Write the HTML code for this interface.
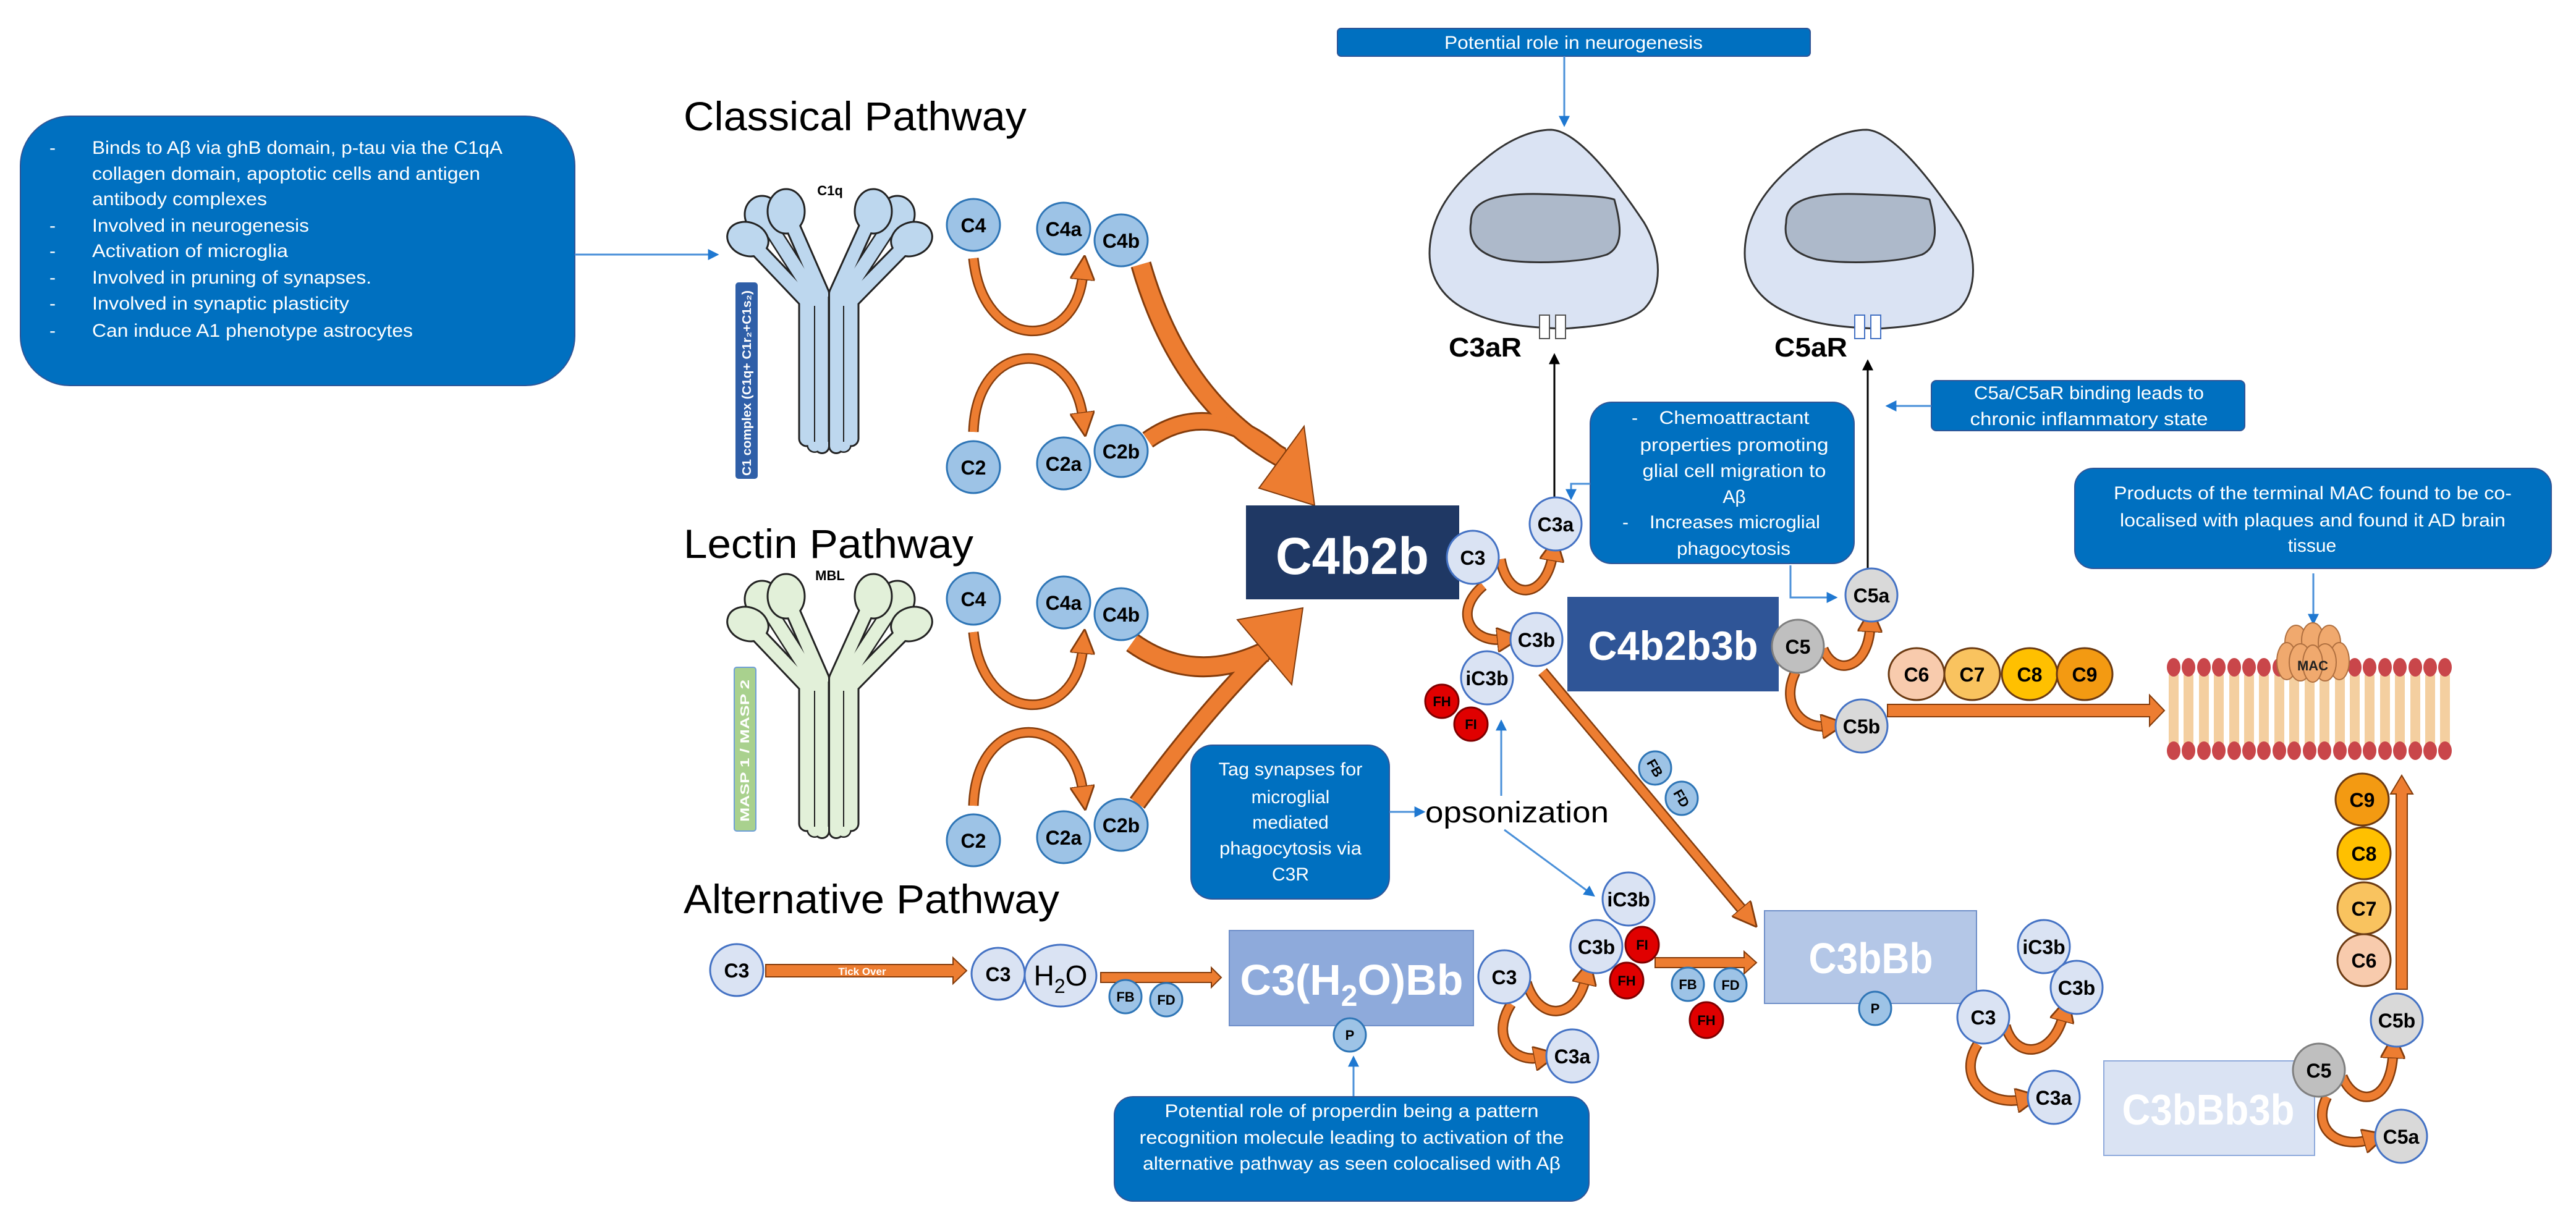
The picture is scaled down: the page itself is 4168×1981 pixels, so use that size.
<!DOCTYPE html>
<html><head><meta charset="utf-8"><style>
html,body{margin:0;padding:0;background:#fff;}
svg{display:block;}
text{font-family:"Liberation Sans",sans-serif;}
.bx{fill:#0070c0;stroke:#2f5597;stroke-width:2;}
.bt{fill:#fff;font-size:30px;}
.cl{font-weight:bold;font-size:32px;fill:#000;text-anchor:middle;}
.cs{font-weight:bold;font-size:22px;fill:#000;text-anchor:middle;}
.lb{fill:#dae3f3;stroke:#4472c4;stroke-width:3;}
.mb{fill:#9dc3e6;stroke:#2e75b6;stroke-width:3;}
.dg{fill:#bfbfbf;stroke:#7f7f7f;stroke-width:3;}
.lg{fill:#d9d9d9;stroke:#4472c4;stroke-width:3;}
.rd{fill:#e00000;stroke:#7f0000;stroke-width:3;}
.oo{fill:none;stroke:#843c0c;stroke-width:17;}
.oi{fill:none;stroke:#ed7d31;stroke-width:12;}
.bl{fill:none;stroke:#4a90d9;stroke-width:3;}
</style></head><body>
<svg width="4168" height="1981" viewBox="0 0 4168 1981" xmlns="http://www.w3.org/2000/svg">
<defs>
<marker id="oa" markerUnits="userSpaceOnUse" markerWidth="40" markerHeight="40" viewBox="0 0 10 10" refX="2" refY="5" orient="auto"><path d="M0,0 L10,5 L0,10z" fill="#ed7d31" stroke="#843c0c" stroke-width="0.7"/></marker>
<marker id="ba" markerUnits="userSpaceOnUse" markerWidth="18" markerHeight="18" viewBox="0 0 10 10" refX="8" refY="5" orient="auto"><path d="M0,0 L10,5 L0,10z" fill="#1f78d1"/></marker>
<marker id="ka" markerUnits="userSpaceOnUse" markerWidth="18" markerHeight="18" viewBox="0 0 10 10" refX="8" refY="5" orient="auto"><path d="M0,0 L10,5 L0,10z" fill="#000"/></marker>
<g id="abody">
<path d="M1210,387 L1305,487 L1305,710" fill="none" stroke="#222" stroke-width="27" stroke-linecap="round" stroke-linejoin="round"/>
<path d="M1475,387 L1377,487 L1377,710" fill="none" stroke="#222" stroke-width="27" stroke-linecap="round" stroke-linejoin="round"/>
<path d="M1233,347 L1318,480 L1318,720" fill="none" stroke="#222" stroke-width="26" stroke-linecap="round" stroke-linejoin="round"/>
<path d="M1452,347 L1365,480 L1365,720" fill="none" stroke="#222" stroke-width="26" stroke-linecap="round" stroke-linejoin="round"/>
<path d="M1272,342 L1330,475 L1330,722" fill="none" stroke="#222" stroke-width="26" stroke-linecap="round" stroke-linejoin="round"/>
<path d="M1413,342 L1353,475 L1353,722" fill="none" stroke="#222" stroke-width="26" stroke-linecap="round" stroke-linejoin="round"/>
<ellipse cx="1233" cy="347" rx="28" ry="30" stroke="#222" stroke-width="3"/><ellipse cx="1452" cy="347" rx="28" ry="30" stroke="#222" stroke-width="3"/>
<path d="M1233,347 L1318,480 L1318,720" fill="none" stroke="currentColor" stroke-width="21" stroke-linecap="round" stroke-linejoin="round"/>
<path d="M1452,347 L1365,480 L1365,720" fill="none" stroke="currentColor" stroke-width="21" stroke-linecap="round" stroke-linejoin="round"/>
<ellipse cx="1210" cy="387" rx="34" ry="27" transform="rotate(20 1210 387)" stroke="#222" stroke-width="3"/><ellipse cx="1475" cy="387" rx="34" ry="27" transform="rotate(-20 1475 387)" stroke="#222" stroke-width="3"/>
<ellipse cx="1272" cy="342" rx="30" ry="36" stroke="#222" stroke-width="3"/><ellipse cx="1413" cy="342" rx="30" ry="36" stroke="#222" stroke-width="3"/>
<path d="M1210,387 L1305,487 L1305,710" fill="none" stroke="currentColor" stroke-width="21" stroke-linecap="round" stroke-linejoin="round"/>
<path d="M1475,387 L1377,487 L1377,710" fill="none" stroke="currentColor" stroke-width="21" stroke-linecap="round" stroke-linejoin="round"/>
<path d="M1272,342 L1330,475 L1330,722" fill="none" stroke="currentColor" stroke-width="20" stroke-linecap="round" stroke-linejoin="round"/>
<path d="M1413,342 L1353,475 L1353,722" fill="none" stroke="currentColor" stroke-width="20" stroke-linecap="round" stroke-linejoin="round"/>
<line x1="1341" y1="480" x2="1341" y2="715" stroke="#222" stroke-width="3"/>
<line x1="1318" y1="495" x2="1318" y2="715" stroke="#222" stroke-width="2"/>
<line x1="1365" y1="495" x2="1365" y2="715" stroke="#222" stroke-width="2"/>
</g>
</defs>

<!-- left info box -->
<rect x="33" y="188" width="897" height="436" rx="80" class="bx"/>
<g class="bt">
<text x="80" y="249">-</text><text x="149" y="249" textLength="664" lengthAdjust="spacingAndGlyphs">Binds to Aβ via ghB domain, p-tau via the C1qA</text>
<text x="149" y="291" textLength="628" lengthAdjust="spacingAndGlyphs">collagen domain, apoptotic cells and antigen</text>
<text x="149" y="332" textLength="283" lengthAdjust="spacingAndGlyphs">antibody complexes</text>
<text x="80" y="375">-</text><text x="149" y="375" textLength="351" lengthAdjust="spacingAndGlyphs">Involved in neurogenesis</text>
<text x="80" y="416">-</text><text x="149" y="416" textLength="317" lengthAdjust="spacingAndGlyphs">Activation of microglia</text>
<text x="80" y="459">-</text><text x="149" y="459" textLength="452" lengthAdjust="spacingAndGlyphs">Involved in pruning of synapses.</text>
<text x="80" y="501">-</text><text x="149" y="501" textLength="416" lengthAdjust="spacingAndGlyphs">Involved in synaptic plasticity</text>
<text x="80" y="545">-</text><text x="149" y="545" textLength="519" lengthAdjust="spacingAndGlyphs">Can induce A1 phenotype astrocytes</text>
</g>
<line x1="930" y1="412" x2="1160" y2="412" class="bl" marker-end="url(#ba)"/>

<!-- titles -->
<text x="1106" y="211" font-size="66" textLength="555" lengthAdjust="spacingAndGlyphs">Classical Pathway</text>
<text x="1106" y="903" font-size="66" textLength="469" lengthAdjust="spacingAndGlyphs">Lectin Pathway</text>
<text x="1106" y="1478" font-size="66" textLength="608" lengthAdjust="spacingAndGlyphs">Alternative Pathway</text>

<!-- C1q structure -->
<use href="#abody" fill="#bdd7ee" style="color:#bdd7ee"/>
<text x="1343" y="316" class="cs" font-size="26">C1q</text>
<rect x="1190" y="457" width="36" height="318" rx="5" fill="#2f5fa8"/>
<text transform="translate(1215,770) rotate(-90)" fill="#fff" font-size="20" font-weight="bold" textLength="300" lengthAdjust="spacingAndGlyphs">C1 complex (C1q+ C1r₂+C1s₂)</text>

<!-- MBL structure -->
<g transform="translate(0,623)">
<use href="#abody" fill="#e2f0d9" style="color:#e2f0d9"/>
<text x="1343" y="316" class="cs" font-size="26">MBL</text>
</g>
<rect x="1188" y="1080" width="35" height="265" rx="4" fill="#a9d18e" stroke="#6f9fd8" stroke-width="2"/>
<text transform="translate(1212,1330) rotate(-90)" fill="#fff" font-size="20" font-weight="bold" textLength="230" lengthAdjust="spacingAndGlyphs">MASP 1 / MASP 2</text>

<!-- small curved orange arrows -->
<g>
<path class="oo" d="M1575,418 C1590,570 1740,570 1752,445"/>
<path class="oi" d="M1575,418 C1590,570 1740,570 1752,445" marker-end="url(#oa)"/>
<path class="oo" d="M1575,699 C1580,545 1735,545 1752,675"/>
<path class="oi" d="M1575,699 C1580,545 1735,545 1752,675" marker-end="url(#oa)"/>
<path class="oo" d="M1575,1023 C1590,1175 1740,1175 1752,1050"/>
<path class="oi" d="M1575,1023 C1590,1175 1740,1175 1752,1050" marker-end="url(#oa)"/>
<path class="oo" d="M1575,1304 C1580,1150 1735,1150 1752,1280"/>
<path class="oi" d="M1575,1304 C1580,1150 1735,1150 1752,1280" marker-end="url(#oa)"/>
</g>

<!-- big orange converging arrows -->
<g fill="none" stroke-linecap="butt">
<path d="M1846,428 Q1910,650 2073,740" stroke="#843c0c" stroke-width="34"/>
<path d="M1857,712 Q1960,640 2073,740" stroke="#843c0c" stroke-width="30"/>
<path d="M1832,1040 Q1930,1110 2046,1055" stroke="#843c0c" stroke-width="34"/>
<path d="M1840,1300 Q1950,1150 2046,1055" stroke="#843c0c" stroke-width="30"/>
<path d="M1846,428 Q1910,650 2073,740" stroke="#ed7d31" stroke-width="28"/>
<path d="M1857,712 Q1960,640 2073,740" stroke="#ed7d31" stroke-width="24"/>
<path d="M1832,1040 Q1930,1110 2046,1055" stroke="#ed7d31" stroke-width="28"/>
<path d="M1840,1300 Q1950,1150 2046,1055" stroke="#ed7d31" stroke-width="24"/>
</g>
<polygon points="2037,790 2110,690 2127,818" fill="#ed7d31" stroke="#843c0c" stroke-width="2"/>
<polygon points="2002,1003 2090,1108 2108,984" fill="#ed7d31" stroke="#843c0c" stroke-width="2"/>

<!-- neurogenesis box + cells -->
<rect x="2164" y="46" width="765" height="45" rx="6" class="bx"/>
<text x="2546" y="79" class="bt" text-anchor="middle" textLength="418" lengthAdjust="spacingAndGlyphs">Potential role in neurogenesis</text>
<line x1="2531" y1="91" x2="2531" y2="202" class="bl" marker-end="url(#ba)"/>

<g id="cell">
<path d="M2510,210 C2555,212 2620,300 2660,360 C2690,410 2690,470 2660,500 C2630,525 2580,528 2530,532 C2470,530 2420,525 2380,505 C2335,485 2313,450 2313,410 C2313,350 2350,300 2400,260 C2440,225 2480,210 2510,210 Z" fill="#dae3f3" stroke="#333" stroke-width="3"/>
<path d="M2380,360 C2380,320 2430,313 2490,314 C2560,316 2600,318 2612,323 C2625,370 2625,400 2600,412 C2560,425 2480,428 2430,420 C2390,410 2375,390 2380,360 Z" fill="#adb9ca" stroke="#333" stroke-width="3"/>
</g>
<rect x="2491" y="510" width="16" height="38" fill="#fff" stroke="#555" stroke-width="2"/>
<rect x="2517" y="510" width="16" height="38" fill="#fff" stroke="#555" stroke-width="2"/>
<text x="2344" y="577" font-size="44" font-weight="bold" textLength="118" lengthAdjust="spacingAndGlyphs">C3aR</text>
<g transform="translate(510,0)">
<path d="M2510,210 C2555,212 2620,300 2660,360 C2690,410 2690,470 2660,500 C2630,525 2580,528 2530,532 C2470,530 2420,525 2380,505 C2335,485 2313,450 2313,410 C2313,350 2350,300 2400,260 C2440,225 2480,210 2510,210 Z" fill="#dae3f3" stroke="#333" stroke-width="3"/>
<path d="M2380,360 C2380,320 2430,313 2490,314 C2560,316 2600,318 2612,323 C2625,370 2625,400 2600,412 C2560,425 2480,428 2430,420 C2390,410 2375,390 2380,360 Z" fill="#adb9ca" stroke="#333" stroke-width="3"/>
<rect x="2491" y="510" width="16" height="38" fill="#fff" stroke="#4472c4" stroke-width="2"/>
<rect x="2517" y="510" width="16" height="38" fill="#fff" stroke="#4472c4" stroke-width="2"/>
</g>
<text x="2871" y="577" font-size="44" font-weight="bold" textLength="118" lengthAdjust="spacingAndGlyphs">C5aR</text>

<!-- black arrows to receptors -->
<line x1="2515" y1="805" x2="2515" y2="575" stroke="#000" stroke-width="3" marker-end="url(#ka)"/>
<line x1="3022" y1="925" x2="3022" y2="585" stroke="#000" stroke-width="3" marker-end="url(#ka)"/>

<!-- chemoattractant box -->
<rect x="2573" y="651" width="427" height="261" rx="35" class="bx"/>
<g class="bt" text-anchor="middle">
<text x="2645" y="686">-</text><text x="2806" y="686" textLength="243" lengthAdjust="spacingAndGlyphs">Chemoattractant</text>
<text x="2806" y="730" textLength="305" lengthAdjust="spacingAndGlyphs">properties promoting</text>
<text x="2806" y="772" textLength="297" lengthAdjust="spacingAndGlyphs">glial cell migration to</text>
<text x="2806" y="814">Aβ</text>
<text x="2630" y="855">-</text><text x="2807" y="855" textLength="276" lengthAdjust="spacingAndGlyphs">Increases microglial</text>
<text x="2805" y="898" textLength="184" lengthAdjust="spacingAndGlyphs">phagocytosis</text>
</g>
<path d="M2573,783 L2542,783 L2542,806" class="bl" marker-end="url(#ba)"/>
<path d="M2897,915 L2897,967 L2970,967" class="bl" marker-end="url(#ba)"/>

<!-- C5a/C5aR box -->
<rect x="3125" y="616" width="507" height="81" rx="8" class="bx"/>
<g class="bt" text-anchor="middle">
<text x="3380" y="646" textLength="372" lengthAdjust="spacingAndGlyphs">C5a/C5aR binding leads to</text>
<text x="3380" y="688" textLength="385" lengthAdjust="spacingAndGlyphs">chronic inflammatory state</text>
</g>
<line x1="3125" y1="657" x2="3054" y2="657" class="bl" marker-end="url(#ba)"/>

<!-- Products box -->
<rect x="3357" y="758" width="771" height="162" rx="30" class="bx"/>
<g class="bt" text-anchor="middle">
<text x="3742" y="808" textLength="644" lengthAdjust="spacingAndGlyphs">Products of the terminal MAC found to be co-</text>
<text x="3742" y="852" textLength="624" lengthAdjust="spacingAndGlyphs">localised with plaques and found it AD brain</text>
<text x="3741" y="893">tissue</text>
</g>
<line x1="3743" y1="928" x2="3743" y2="1008" class="bl" marker-end="url(#ba)"/>

<!-- membrane -->
<g>
<g fill="#f4cfa0">
<rect x="3509" y="1092" width="16" height="112"/><rect x="3533" y="1092" width="16" height="112"/><rect x="3558" y="1092" width="16" height="112"/><rect x="3582" y="1092" width="16" height="112"/><rect x="3607" y="1092" width="16" height="112"/><rect x="3631" y="1092" width="16" height="112"/><rect x="3655" y="1092" width="16" height="112"/><rect x="3680" y="1092" width="16" height="112"/><rect x="3704" y="1092" width="16" height="112"/><rect x="3729" y="1092" width="16" height="112"/><rect x="3753" y="1092" width="16" height="112"/><rect x="3778" y="1092" width="16" height="112"/><rect x="3802" y="1092" width="16" height="112"/><rect x="3826" y="1092" width="16" height="112"/><rect x="3851" y="1092" width="16" height="112"/><rect x="3875" y="1092" width="16" height="112"/><rect x="3900" y="1092" width="16" height="112"/><rect x="3924" y="1092" width="16" height="112"/><rect x="3948" y="1092" width="16" height="112"/>
</g>
<g fill="#c9464a">
<ellipse cx="3517" cy="1080" rx="11" ry="15"/><ellipse cx="3541" cy="1080" rx="11" ry="15"/><ellipse cx="3566" cy="1080" rx="11" ry="15"/><ellipse cx="3590" cy="1080" rx="11" ry="15"/><ellipse cx="3615" cy="1080" rx="11" ry="15"/><ellipse cx="3639" cy="1080" rx="11" ry="15"/><ellipse cx="3663" cy="1080" rx="11" ry="15"/><ellipse cx="3688" cy="1080" rx="11" ry="15"/><ellipse cx="3810" cy="1080" rx="11" ry="15"/><ellipse cx="3834" cy="1080" rx="11" ry="15"/><ellipse cx="3859" cy="1080" rx="11" ry="15"/><ellipse cx="3883" cy="1080" rx="11" ry="15"/><ellipse cx="3908" cy="1080" rx="11" ry="15"/><ellipse cx="3932" cy="1080" rx="11" ry="15"/><ellipse cx="3956" cy="1080" rx="11" ry="15"/>
<ellipse cx="3517" cy="1215" rx="11" ry="15"/><ellipse cx="3541" cy="1215" rx="11" ry="15"/><ellipse cx="3566" cy="1215" rx="11" ry="15"/><ellipse cx="3590" cy="1215" rx="11" ry="15"/><ellipse cx="3615" cy="1215" rx="11" ry="15"/><ellipse cx="3639" cy="1215" rx="11" ry="15"/><ellipse cx="3663" cy="1215" rx="11" ry="15"/><ellipse cx="3688" cy="1215" rx="11" ry="15"/><ellipse cx="3712" cy="1215" rx="11" ry="15"/><ellipse cx="3737" cy="1215" rx="11" ry="15"/><ellipse cx="3761" cy="1215" rx="11" ry="15"/><ellipse cx="3786" cy="1215" rx="11" ry="15"/><ellipse cx="3810" cy="1215" rx="11" ry="15"/><ellipse cx="3834" cy="1215" rx="11" ry="15"/><ellipse cx="3859" cy="1215" rx="11" ry="15"/><ellipse cx="3883" cy="1215" rx="11" ry="15"/><ellipse cx="3908" cy="1215" rx="11" ry="15"/><ellipse cx="3932" cy="1215" rx="11" ry="15"/><ellipse cx="3956" cy="1215" rx="11" ry="15"/>
</g>
<g fill="#f0a96e" stroke="#b07040" stroke-width="2">
<ellipse cx="3715" cy="1040" rx="18" ry="28"/><ellipse cx="3742" cy="1036" rx="18" ry="28"/><ellipse cx="3769" cy="1040" rx="18" ry="28"/>
<ellipse cx="3700" cy="1070" rx="16" ry="30"/><ellipse cx="3785" cy="1070" rx="16" ry="30"/>
<ellipse cx="3722" cy="1072" rx="18" ry="30"/><ellipse cx="3762" cy="1072" rx="18" ry="30"/><ellipse cx="3742" cy="1074" rx="16" ry="30"/>
</g>
<text x="3742" y="1085" font-size="22" font-weight="bold" text-anchor="middle" fill="#222">MAC</text>
</g>

<!-- C5b -> membrane arrow -->
<polygon points="3054,1140 3478,1140 3478,1125 3502,1150 3478,1175 3478,1160 3054,1160" fill="#ed7d31" stroke="#843c0c" stroke-width="2"/>

<!-- Boxes -->
<rect x="2016" y="818" width="345" height="152" fill="#1f3864"/>
<text x="2188" y="929" font-size="84" font-weight="bold" fill="#fff" text-anchor="middle" textLength="248" lengthAdjust="spacingAndGlyphs">C4b2b</text>
<rect x="2536" y="966" width="342" height="153" fill="#2f5597"/>
<text x="2707" y="1068" font-size="66" font-weight="bold" fill="#fff" text-anchor="middle" textLength="275" lengthAdjust="spacingAndGlyphs">C4b2b3b</text>

<!-- C3 curved arrows top -->
<path class="oo" d="M2428,905 C2440,975 2500,970 2512,900"/>
<path class="oi" d="M2428,905 C2440,975 2500,970 2512,900" marker-end="url(#oa)"/>
<path class="oo" d="M2400,948 C2350,990 2380,1040 2430,1035"/>
<path class="oi" d="M2400,948 C2350,990 2380,1040 2430,1035" marker-end="url(#oa)"/>
<path class="oo" d="M2950,1050 C2968,1095 3022,1085 3026,1015"/>
<path class="oi" d="M2950,1050 C2968,1095 3022,1085 3026,1015" marker-end="url(#oa)"/>
<path class="oo" d="M2905,1088 C2880,1140 2915,1180 2955,1175"/>
<path class="oi" d="M2905,1088 C2880,1140 2915,1180 2955,1175" marker-end="url(#oa)"/>

<!-- amplification arrow -->
<line x1="2496" y1="1087" x2="2822" y2="1476" stroke="#843c0c" stroke-width="18"/>
<line x1="2496" y1="1087" x2="2822" y2="1476" stroke="#ed7d31" stroke-width="13" marker-end="url(#oa)"/>
<text transform="translate(2640,1240) rotate(50)" fill="#fff" font-size="12" font-weight="bold">Amplification</text>

<!-- tag box, opsonization -->
<rect x="1927" y="1206" width="321" height="249" rx="35" class="bx"/>
<g class="bt" text-anchor="middle">
<text x="2088" y="1255" textLength="233" lengthAdjust="spacingAndGlyphs">Tag synapses for</text>
<text x="2088" y="1300">microglial</text>
<text x="2088" y="1341">mediated</text>
<text x="2088" y="1383" textLength="230" lengthAdjust="spacingAndGlyphs">phagocytosis via</text>
<text x="2088" y="1425">C3R</text>
</g>
<line x1="2248" y1="1314" x2="2303" y2="1314" class="bl" marker-end="url(#ba)"/>
<text x="2306" y="1331" font-size="48" textLength="297" lengthAdjust="spacingAndGlyphs">opsonization</text>
<line x1="2429" y1="1288" x2="2429" y2="1168" class="bl" marker-end="url(#ba)"/>
<line x1="2434" y1="1343" x2="2578" y2="1449" class="bl" marker-end="url(#ba)"/>

<!-- alternative pathway row -->
<polygon points="1239,1561 1542,1561 1542,1550 1564,1571 1542,1592 1542,1581 1239,1581" fill="#ed7d31" stroke="#843c0c" stroke-width="2"/>
<text x="1395" y="1578" font-size="17" font-weight="bold" fill="#fff" text-anchor="middle">Tick Over</text>
<polygon points="1781,1574 1960,1574 1960,1566 1976,1582 1960,1598 1960,1590 1781,1590" fill="#ed7d31" stroke="#843c0c" stroke-width="2"/>

<rect x="1989" y="1506" width="395" height="154" fill="#8eaadb" stroke="#6f8fc9" stroke-width="2"/>
<text x="2187" y="1610" font-size="70" font-weight="bold" fill="#fff" text-anchor="middle">C3(H<tspan font-size="48" dy="18">2</tspan><tspan dy="-18">O)Bb</tspan></text>
<line x1="2190" y1="1775" x2="2190" y2="1712" class="bl" marker-end="url(#ba)"/>

<rect x="2855" y="1474" width="343" height="150" fill="#b4c7e7" stroke="#6f8fc9" stroke-width="2"/>
<text x="3027" y="1575" font-size="70" font-weight="bold" fill="#fff" text-anchor="middle" textLength="201" lengthAdjust="spacingAndGlyphs">C3bBb</text>
<rect x="3404" y="1717" width="341" height="153" fill="#dae3f3" stroke="#8faadc" stroke-width="2"/>
<text x="3573" y="1820" font-size="70" font-weight="bold" fill="#fff" text-anchor="middle" textLength="279" lengthAdjust="spacingAndGlyphs">C3bBb3b</text>

<polygon points="2678,1550 2822,1550 2822,1540 2842,1558 2822,1576 2822,1566 2678,1566" fill="#ed7d31" stroke="#843c0c" stroke-width="2"/>

<path class="oo" d="M2470,1590 C2490,1655 2550,1650 2565,1585"/>
<path class="oi" d="M2470,1590 C2490,1655 2550,1650 2565,1585" marker-end="url(#oa)"/>
<path class="oo" d="M2445,1625 C2410,1680 2450,1720 2490,1712"/>
<path class="oi" d="M2445,1625 C2410,1680 2450,1720 2490,1712" marker-end="url(#oa)"/>
<path class="oo" d="M3245,1660 C3260,1715 3320,1712 3338,1645"/>
<path class="oi" d="M3245,1660 C3260,1715 3320,1712 3338,1645" marker-end="url(#oa)"/>
<path class="oo" d="M3200,1690 C3165,1745 3215,1790 3270,1780"/>
<path class="oi" d="M3200,1690 C3165,1745 3215,1790 3270,1780" marker-end="url(#oa)"/>
<path class="oo" d="M3790,1742 C3810,1792 3868,1790 3872,1705"/>
<path class="oi" d="M3790,1742 C3810,1792 3868,1790 3872,1705" marker-end="url(#oa)"/>
<path class="oo" d="M3765,1775 C3740,1825 3780,1860 3832,1845"/>
<path class="oi" d="M3765,1775 C3740,1825 3780,1860 3832,1845" marker-end="url(#oa)"/>

<!-- vertical arrow -->
<polygon points="3877,1601 3877,1285 3868,1285 3886,1255 3904,1285 3895,1285 3895,1601" fill="#ed7d31" stroke="#843c0c" stroke-width="2"/>

<!-- properdin box -->
<rect x="1803" y="1775" width="768" height="169" rx="30" class="bx"/>
<g class="bt" text-anchor="middle">
<text x="2187" y="1808" textLength="605" lengthAdjust="spacingAndGlyphs">Potential role of properdin being a pattern</text>
<text x="2187" y="1851" textLength="687" lengthAdjust="spacingAndGlyphs">recognition molecule leading to activation of the</text>
<text x="2187" y="1893" textLength="676" lengthAdjust="spacingAndGlyphs">alternative pathway as seen colocalised with Aβ</text>
</g>

<!-- circles -->
<g>
<ellipse class="mb" cx="1575" cy="364" rx="43" ry="42"/><text class="cl" x="1575" y="376">C4</text>
<ellipse class="mb" cx="1721" cy="370" rx="43" ry="42"/><text class="cl" x="1721" y="382">C4a</text>
<ellipse class="mb" cx="1814" cy="389" rx="43" ry="42"/><text class="cl" x="1814" y="401">C4b</text>
<ellipse class="mb" cx="1575" cy="756" rx="43" ry="42"/><text class="cl" x="1575" y="768">C2</text>
<ellipse class="mb" cx="1721" cy="750" rx="43" ry="42"/><text class="cl" x="1721" y="762">C2a</text>
<ellipse class="mb" cx="1814" cy="730" rx="43" ry="42"/><text class="cl" x="1814" y="742">C2b</text>
<ellipse class="mb" cx="1575" cy="969" rx="43" ry="42"/><text class="cl" x="1575" y="981">C4</text>
<ellipse class="mb" cx="1721" cy="975" rx="43" ry="42"/><text class="cl" x="1721" y="987">C4a</text>
<ellipse class="mb" cx="1814" cy="994" rx="43" ry="42"/><text class="cl" x="1814" y="1006">C4b</text>
<ellipse class="mb" cx="1575" cy="1360" rx="43" ry="42"/><text class="cl" x="1575" y="1372">C2</text>
<ellipse class="mb" cx="1721" cy="1355" rx="43" ry="42"/><text class="cl" x="1721" y="1367">C2a</text>
<ellipse class="mb" cx="1814" cy="1335" rx="43" ry="42"/><text class="cl" x="1814" y="1347">C2b</text>

<ellipse class="lb" cx="2383" cy="902" rx="42" ry="43"/><text class="cl" x="2383" y="914">C3</text>
<ellipse class="lb" cx="2517" cy="848" rx="42" ry="43"/><text class="cl" x="2517" y="860">C3a</text>
<ellipse class="lb" cx="2406" cy="1097" rx="42" ry="43"/><text class="cl" x="2406" y="1109">iC3b</text>
<ellipse class="lb" cx="2486" cy="1035" rx="42" ry="43"/><text class="cl" x="2486" y="1047">C3b</text>
<ellipse class="lb" cx="1192" cy="1570" rx="43" ry="42"/><text class="cl" x="1192" y="1582">C3</text>
<ellipse class="lb" cx="1615" cy="1576" rx="43" ry="42"/><text class="cl" x="1615" y="1588">C3</text>
<ellipse class="lb" cx="1716" cy="1579" rx="58" ry="50"/><text x="1716" y="1595" font-size="46" text-anchor="middle" fill="#000">H<tspan font-size="32" dy="12">2</tspan><tspan dy="-12">O</tspan></text>
<ellipse class="lb" cx="2434" cy="1581" rx="42" ry="43"/><text class="cl" x="2434" y="1593">C3</text>
<ellipse class="lb" cx="2544" cy="1709" rx="42" ry="43"/><text class="cl" x="2544" y="1721">C3a</text>
<ellipse class="lb" cx="2635" cy="1455" rx="42" ry="43"/><text class="cl" x="2635" y="1467">iC3b</text>
<ellipse class="lb" cx="2583" cy="1532" rx="42" ry="43"/><text class="cl" x="2583" y="1544">C3b</text>
<ellipse class="lb" cx="3307" cy="1532" rx="42" ry="43"/><text class="cl" x="3307" y="1544">iC3b</text>
<ellipse class="lb" cx="3360" cy="1598" rx="42" ry="43"/><text class="cl" x="3360" y="1610">C3b</text>
<ellipse class="lb" cx="3209" cy="1646" rx="42" ry="43"/><text class="cl" x="3209" y="1658">C3</text>
<ellipse class="lb" cx="3323" cy="1776" rx="42" ry="43"/><text class="cl" x="3323" y="1788">C3a</text>

<ellipse class="dg" cx="2909" cy="1046" rx="42" ry="43"/><text class="cl" x="2909" y="1058">C5</text>
<ellipse class="dg" cx="3752" cy="1732" rx="42" ry="43"/><text class="cl" x="3752" y="1744">C5</text>
<ellipse class="lg" cx="3028" cy="963" rx="42" ry="43"/><text class="cl" x="3028" y="975">C5a</text>
<ellipse class="lg" cx="3012" cy="1175" rx="42" ry="43"/><text class="cl" x="3012" y="1187">C5b</text>
<ellipse class="lg" cx="3878" cy="1651" rx="42" ry="43"/><text class="cl" x="3878" y="1663">C5b</text>
<ellipse class="lg" cx="3885" cy="1839" rx="42" ry="43"/><text class="cl" x="3885" y="1851">C5a</text>

<ellipse class="mb" cx="1821" cy="1613" rx="26" ry="27"/><text class="cs" x="1821" y="1621">FB</text>
<ellipse class="mb" cx="1887" cy="1618" rx="26" ry="27"/><text class="cs" x="1887" y="1626">FD</text>
<ellipse class="mb" cx="2184" cy="1675" rx="26" ry="27"/><text class="cs" x="2184" y="1683">P</text>
<ellipse class="mb" cx="2731" cy="1593" rx="26" ry="27"/><text class="cs" x="2731" y="1601">FB</text>
<ellipse class="mb" cx="2800" cy="1594" rx="26" ry="27"/><text class="cs" x="2800" y="1602">FD</text>
<ellipse class="mb" cx="3034" cy="1632" rx="26" ry="27"/><text class="cs" x="3034" y="1640">P</text>
<ellipse class="mb" cx="2678" cy="1243" rx="26" ry="27"/><text class="cs" x="2678" y="1251" transform="rotate(60 2678 1243)">FB</text>
<ellipse class="mb" cx="2721" cy="1292" rx="26" ry="27"/><text class="cs" x="2721" y="1300" transform="rotate(60 2721 1292)">FD</text>

<ellipse class="rd" cx="2333" cy="1135" rx="27" ry="27"/><text class="cs" x="2333" y="1143">FH</text>
<ellipse class="rd" cx="2380" cy="1172" rx="27" ry="27"/><text class="cs" x="2380" y="1180">FI</text>
<ellipse class="rd" cx="2657" cy="1529" rx="27" ry="29"/><text class="cs" x="2657" y="1537">FI</text>
<ellipse class="rd" cx="2632" cy="1587" rx="27" ry="29"/><text class="cs" x="2632" y="1595">FH</text>
<ellipse class="rd" cx="2761" cy="1651" rx="27" ry="29"/><text class="cs" x="2761" y="1659">FH</text>

<ellipse cx="3101" cy="1091" rx="45" ry="42" fill="#f8cbad" stroke="#6b3a12" stroke-width="3"/><text class="cl" x="3101" y="1103">C6</text>
<ellipse cx="3191" cy="1091" rx="45" ry="42" fill="#f9c35f" stroke="#6b3a12" stroke-width="3"/><text class="cl" x="3191" y="1103">C7</text>
<ellipse cx="3284" cy="1091" rx="45" ry="42" fill="#ffc000" stroke="#6b3a12" stroke-width="3"/><text class="cl" x="3284" y="1103">C8</text>
<ellipse cx="3373" cy="1091" rx="45" ry="42" fill="#f39a12" stroke="#6b3a12" stroke-width="3"/><text class="cl" x="3373" y="1103">C9</text>
<ellipse cx="3825" cy="1554" rx="43" ry="42" fill="#f8cbad" stroke="#6b3a12" stroke-width="3"/><text class="cl" x="3825" y="1566">C6</text>
<ellipse cx="3825" cy="1470" rx="43" ry="42" fill="#f9c35f" stroke="#6b3a12" stroke-width="3"/><text class="cl" x="3825" y="1482">C7</text>
<ellipse cx="3825" cy="1381" rx="43" ry="42" fill="#ffc000" stroke="#6b3a12" stroke-width="3"/><text class="cl" x="3825" y="1393">C8</text>
<ellipse cx="3822" cy="1294" rx="43" ry="42" fill="#f39a12" stroke="#6b3a12" stroke-width="3"/><text class="cl" x="3822" y="1306">C9</text>
</g>
</svg>
</body></html>
